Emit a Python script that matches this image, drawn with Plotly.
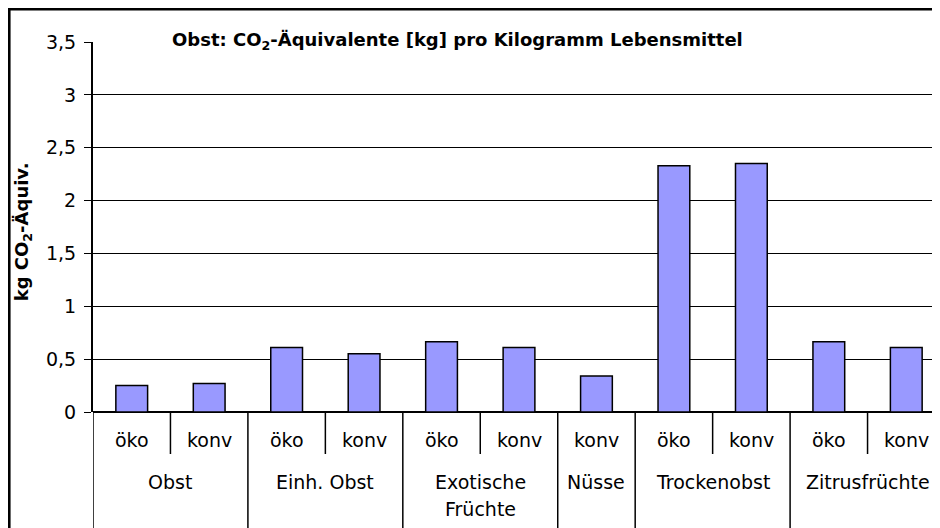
import plotly.graph_objects as go

groups = ["Obst", "Obst", "Einh. Obst", "Einh. Obst", "Exotische<br>Früchte", "Exotische<br>Früchte",
          "Nüsse", "Trockenobst", "Trockenobst", "Zitrusfrüchte", "Zitrusfrüchte"]
kinds = ["öko", "konv", "öko", "konv", "öko", "konv", "konv", "öko", "konv", "öko", "konv"]
values = [0.25, 0.27, 0.61, 0.55, 0.665, 0.61, 0.34, 2.33, 2.35, 0.665, 0.61]
y_ticks = [0, 0.5, 1, 1.5, 2, 2.5, 3, 3.5]

FONT = "DejaVu Sans, Arial, sans-serif"
PLOT_H = 370  # plot area height in px, used to place labels below the axis
idx = list(range(len(values)))

fig = go.Figure(go.Bar(
    x=idx, y=values, width=0.41,
    marker=dict(color="#9999ff", line=dict(color="black", width=1.5)),
))

shapes = []
annotations = []
lbl_font = dict(size=19, family=FONT, color="black")

# sub-category labels and separators
for i, k in enumerate(kinds):
    annotations.append(dict(x=i, y=-28 / PLOT_H, xref="x", yref="paper", text=k, showarrow=False,
                            yanchor="middle", font=lbl_font))
    if i > 0 and groups[i] == groups[i - 1]:
        shapes.append(dict(type="line", xref="x", yref="paper", x0=i - 0.5, x1=i - 0.5,
                           y0=0, y1=-42 / PLOT_H, line=dict(color="black", width=1.5)))

# group labels and separators
start = 0
for i in range(1, len(groups) + 1):
    if i == len(groups) or groups[i] != groups[start]:
        mid = (start + i - 1) / 2
        for j, line in enumerate(groups[start].split("<br>")):
            annotations.append(dict(x=mid, y=-(70 + 27 * j) / PLOT_H, xref="x", yref="paper",
                                    text=line, showarrow=False, yanchor="middle", font=lbl_font))
        shapes.append(dict(type="line", xref="x", yref="paper", x0=start - 0.5, x1=start - 0.5,
                           y0=0, y1=-0.4, line=dict(color="black", width=1.5)))
        start = i

# outer border
shapes.append(dict(type="rect", xref="paper", yref="paper", x0=-0.0985, x1=1.1, y0=-0.5, y1=1.089,
                   line=dict(color="black", width=3), layer="below"))

annotations.append(dict(x=0.428, y=1.0405, xref="paper", yref="paper", showarrow=False,
                        text="<b>Obst: CO<sub>2</sub>-Äquivalente [kg] pro Kilogramm Lebensmittel</b>",
                        font=dict(size=18, family=FONT, color="black")))
annotations.append(dict(x=-0.082, y=0.486, xref="paper", yref="paper", showarrow=False, textangle=-90,
                        xanchor="center", yanchor="middle",
                        text="<b>kg CO<sub>2</sub>-Äquiv.</b>",
                        font=dict(size=18, family=FONT, color="black")))

fig.update_layout(
    width=940, height=528,
    margin=dict(l=85, r=3, t=34, b=124),
    paper_bgcolor="white", plot_bgcolor="white",
    separators=",.",
    showlegend=False,
    shapes=shapes, annotations=annotations,
    xaxis=dict(range=[-0.5, 10.5], showticklabels=False, showgrid=False, zeroline=False,
               showline=False, ticks=""),
    yaxis=dict(range=[0, 3.5], tickvals=y_ticks, showgrid=True, gridcolor="black", gridwidth=1,
               zeroline=True, zerolinecolor="black", zerolinewidth=2,
               showline=True, linecolor="black", linewidth=2, ticks="outside", ticklen=7,
               tickcolor="black", ticklabelstandoff=4,
               tickfont=dict(size=19, family=FONT, color="black")),
)

fig.write_html("out.html")
